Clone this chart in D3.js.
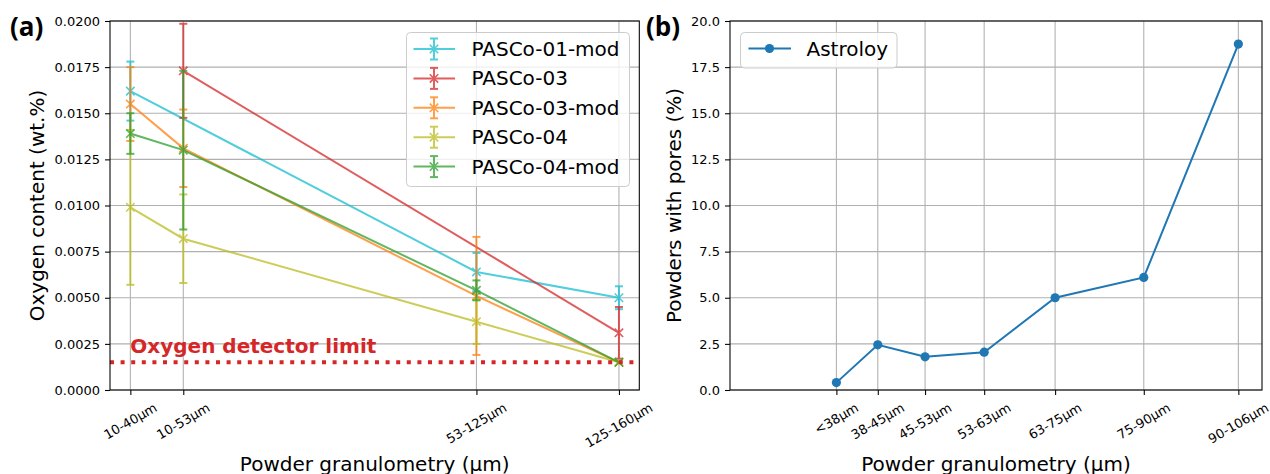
<!DOCTYPE html>
<html><head><meta charset="utf-8">
<script src="https://cdn.jsdelivr.net/npm/d3@7"></script>
<style>
body{margin:0;background:#fff}
text{font-family:"DejaVu Sans",sans-serif}
</style>
</head><body><svg id="c" width="1270" height="474"></svg>
<script>
// ---------- data ----------
const leftTickValues = [40, 53, 125, 160];
const leftTickLabels = ["10-40µm", "10-53µm", "53-125µm", "125-160µm"];
const seriesNames = ["PASCo-01-mod", "PASCo-03", "PASCo-03-mod", "PASCo-04", "PASCo-04-mod"];
const seriesColors = ["#17becf", "#d62728", "#ff7f0e", "#bcbd22", "#2ca02c"];
const pasco01mod    = [0.0162, null,   0.0064,  0.0050];
const pasco01modErr = [0.0016, null,   0.00103, 0.00062];
const pasco03       = [null,   0.0173, null,    0.0031];
const pasco03Err    = [null,   0.00255,null,    0.0014];
const pasco03mod    = [0.0155, 0.0131, 0.0051,  0.0015];
const pasco03modErr = [0.0020, 0.0021, 0.0032,  0];
const pasco04       = [0.0099, 0.0082, 0.0037,  0.0015];
const pasco04Err    = [0.0042, 0.0024, 0.0012,  0];
const pasco04mod    = [0.0139, 0.0130, 0.0054,  0.0015];
const pasco04modErr = [0.0011, 0.0043, 0.00054, 0];
const yTicksLeft = [0, 0.0025, 0.005, 0.0075, 0.01, 0.0125, 0.015, 0.0175, 0.02];
const detectorLimit = 0.0015;
const detectorLabel = "Oxygen detector limit";

const rightTickValues = [38, 45, 53, 63, 75, 90, 106];
const rightTickLabels = ["<38µm", "38-45µm", "45-53µm", "53-63µm", "63-75µm", "75-90µm", "90-106µm"];
const astroloy = [0.4, 2.45, 1.8, 2.05, 5.0, 6.1, 18.75];
const yTicksRight = [0, 2.5, 5, 7.5, 10, 12.5, 15, 17.5, 20];

// ---------- layout ----------
const svg = d3.select("#c");
svg.append("rect").attr("width",1270).attr("height",474).attr("fill","#fff");
const TOP = 21, BOT = 390;
const L = {x0:110, x1:639.3};
const R = {x0:730, x1:1262};
const gridColor = "#b0b0b0";

const xL = d3.scaleLinear().domain([35,165]).range([L.x0, L.x1]);
const yL = d3.scaleLinear().domain([0,0.02]).range([BOT, TOP]);
const xR = d3.scaleLinear().domain([20,110]).range([R.x0, R.x1]);
const yR = d3.scaleLinear().domain([0,20]).range([BOT, TOP]);

function drawFrame(x, y, xVals, xLabels, yVals, yFmt, box){
  const g = svg.append("g");
  // grid
  g.selectAll(".gx").data(xVals).enter().append("line")
    .attr("x1",d=>x(d)).attr("x2",d=>x(d)).attr("y1",TOP).attr("y2",BOT)
    .attr("stroke",gridColor).attr("stroke-width",1.07);
  g.selectAll(".gy").data(yVals).enter().append("line")
    .attr("x1",box.x0).attr("x2",box.x1).attr("y1",d=>y(d)).attr("y2",d=>y(d))
    .attr("stroke",gridColor).attr("stroke-width",1.07);
  // y axis
  const ya = svg.append("g").attr("transform",`translate(${box.x0},0)`)
    .call(d3.axisLeft(y).tickValues(yVals).tickFormat(yFmt).tickSize(5).tickSizeOuter(0).tickPadding(5));
  ya.select(".domain").remove();
  ya.selectAll(".tick line").attr("stroke","#000").attr("stroke-width",1.07);
  ya.selectAll(".tick text").attr("font-size",13).attr("fill","#000").attr("font-family","DejaVu Sans");
  // x axis
  const xa = svg.append("g").attr("transform",`translate(0,${BOT})`)
    .call(d3.axisBottom(x).tickValues(xVals).tickFormat("").tickSize(5).tickSizeOuter(0));
  xa.select(".domain").remove();
  xa.selectAll(".tick line").attr("stroke","#000").attr("stroke-width",1.07);
  // rotated labels
  xVals.forEach((v,i)=>{
    const t = svg.append("text").text(xLabels[i]).attr("font-size",13)
      .attr("text-anchor","middle").attr("dominant-baseline","central").attr("fill","#000");
    const w = t.node().getComputedTextLength();
    const H = w*0.5 + 15*0.866;
    const yc = BOT + 5 + 5 + H/2;
    t.attr("transform",`translate(${x(v)},${yc}) rotate(-30)`);
  });
  return g;
}
function drawSpines(box){
  svg.append("rect").attr("x",box.x0).attr("y",TOP).attr("width",box.x1-box.x0).attr("height",BOT-TOP)
    .attr("fill","none").attr("stroke","#000").attr("stroke-width",1.07);
}

// ---------- left panel ----------
drawFrame(xL, yL, leftTickValues, leftTickLabels, yTicksLeft, d3.format(".4f"), L);
const seriesVals = [pasco01mod, pasco03, pasco03mod, pasco04, pasco04mod];
const seriesErrs = [pasco01modErr, pasco03Err, pasco03modErr, pasco04Err, pasco04modErr];
const lineGen = d3.line().x(d=>xL(d.x)).y(d=>yL(d.y));
const plotL = svg.append("g");
function xMarker(g, cx, cy, s, color){
  g.append("path").attr("d",`M${cx-s},${cy-s}L${cx+s},${cy+s}M${cx-s},${cy+s}L${cx+s},${cy-s}`)
   .attr("stroke",color).attr("stroke-width",1.6).attr("fill","none");
}
seriesVals.forEach((vals,si)=>{
  const color = seriesColors[si];
  const g = plotL.append("g").attr("opacity",0.75);
  const pts = vals.map((v,i)=>({x:leftTickValues[i], y:v, e:seriesErrs[si][i]})).filter(d=>d.y!==null);
  // error bars
  pts.forEach(d=>{
    if(d.e>0){
      const cx=xL(d.x), y1=yL(d.y+d.e), y2=yL(d.y-d.e);
      g.append("line").attr("x1",cx).attr("x2",cx).attr("y1",y1).attr("y2",y2).attr("stroke",color).attr("stroke-width",2);
      [y1,y2].forEach(yy=>g.append("line").attr("x1",cx-4).attr("x2",cx+4).attr("y1",yy).attr("y2",yy).attr("stroke",color).attr("stroke-width",2));
    }
  });
  g.append("path").datum(pts).attr("d",lineGen).attr("fill","none").attr("stroke",color).attr("stroke-width",2);
  pts.forEach(d=>xMarker(g, xL(d.x), yL(d.y), 4.2, color));
});
// detector limit
svg.append("line").attr("x1",L.x0).attr("x2",L.x1).attr("y1",yL(detectorLimit)).attr("y2",yL(detectorLimit))
  .attr("stroke","#d62728").attr("stroke-width",4).attr("stroke-dasharray","4,6.6");
svg.append("text").text(detectorLabel).attr("x",xL(40)).attr("y",yL(0.002))
  .attr("font-size",20).attr("font-weight","bold").attr("fill","#d62728");
drawSpines(L);

// left legend
const lg = svg.append("g");
lg.append("rect").attr("x",406.5).attr("y",32.5).attr("width",223).attr("height",154).attr("rx",4)
  .attr("fill","#fff").attr("fill-opacity",0.8).attr("stroke","#cccccc").attr("stroke-width",1);
seriesNames.forEach((n,i)=>{
  const cy = 49 + i*29.4, color = seriesColors[i];
  const g = lg.append("g").attr("opacity",0.75);
  g.append("line").attr("x1",413.5).attr("x2",455).attr("y1",cy).attr("y2",cy).attr("stroke",color).attr("stroke-width",2);
  g.append("line").attr("x1",434).attr("x2",434).attr("y1",cy-10.5).attr("y2",cy+10.5).attr("stroke",color).attr("stroke-width",2);
  [cy-10.5,cy+10.5].forEach(yy=>g.append("line").attr("x1",430).attr("x2",438).attr("y1",yy).attr("y2",yy).attr("stroke",color).attr("stroke-width",2));
  xMarker(g,434,cy,4.2,color);
  lg.append("text").text(n).attr("x",471.5).attr("y",cy+7).attr("font-size",20).attr("fill","#000");
});

// ---------- right panel ----------
drawFrame(xR, yR, rightTickValues, rightTickLabels, yTicksRight, d3.format(".1f"), R);
const ptsR = astroloy.map((v,i)=>({x:rightTickValues[i], y:v}));
svg.append("path").datum(ptsR).attr("d",d3.line().x(d=>xR(d.x)).y(d=>yR(d.y)))
  .attr("fill","none").attr("stroke","#1f77b4").attr("stroke-width",2);
svg.selectAll(".pr").data(ptsR).enter().append("circle")
  .attr("cx",d=>xR(d.x)).attr("cy",d=>yR(d.y)).attr("r",4.6).attr("fill","#1f77b4");
drawSpines(R);
const rg = svg.append("g");
rg.append("rect").attr("x",740.5).attr("y",32.5).attr("width",156.5).attr("height",35.5).attr("rx",4)
  .attr("fill","#fff").attr("fill-opacity",0.8).attr("stroke","#cccccc").attr("stroke-width",1);
rg.append("line").attr("x1",748.5).attr("x2",791).attr("y1",48.5).attr("y2",48.5).attr("stroke","#1f77b4").attr("stroke-width",2);
rg.append("circle").attr("cx",769.5).attr("cy",48.5).attr("r",4.6).attr("fill","#1f77b4");
rg.append("text").text("Astroloy").attr("x",806.5).attr("y",55.5).attr("font-size",20).attr("fill","#000");

// ---------- labels ----------
svg.append("text").text("Oxygen content (wt.%)").attr("font-size",20).attr("text-anchor","middle")
  .attr("transform",`translate(43.5,${(TOP+BOT)/2}) rotate(-90)`);
svg.append("text").text("Powders with pores (%)").attr("font-size",20).attr("text-anchor","middle")
  .attr("transform",`translate(681,${(TOP+BOT)/2}) rotate(-90)`);
svg.append("text").text("Powder granulometry (µm)").attr("font-size",20).attr("text-anchor","middle")
  .attr("x",(L.x0+L.x1)/2).attr("y",470.5);
svg.append("text").text("Powder granulometry (µm)").attr("font-size",20).attr("text-anchor","middle")
  .attr("x",(R.x0+R.x1)/2).attr("y",470.5);
svg.append("text").text("(a)").attr("x",10).attr("y",36).attr("font-size",26).attr("font-weight","bold")
  .style("font-family","'Open Sans',sans-serif");
svg.append("text").text("(b)").attr("x",646).attr("y",36).attr("font-size",26).attr("font-weight","bold")
  .style("font-family","'Open Sans',sans-serif");
</script></body></html>
